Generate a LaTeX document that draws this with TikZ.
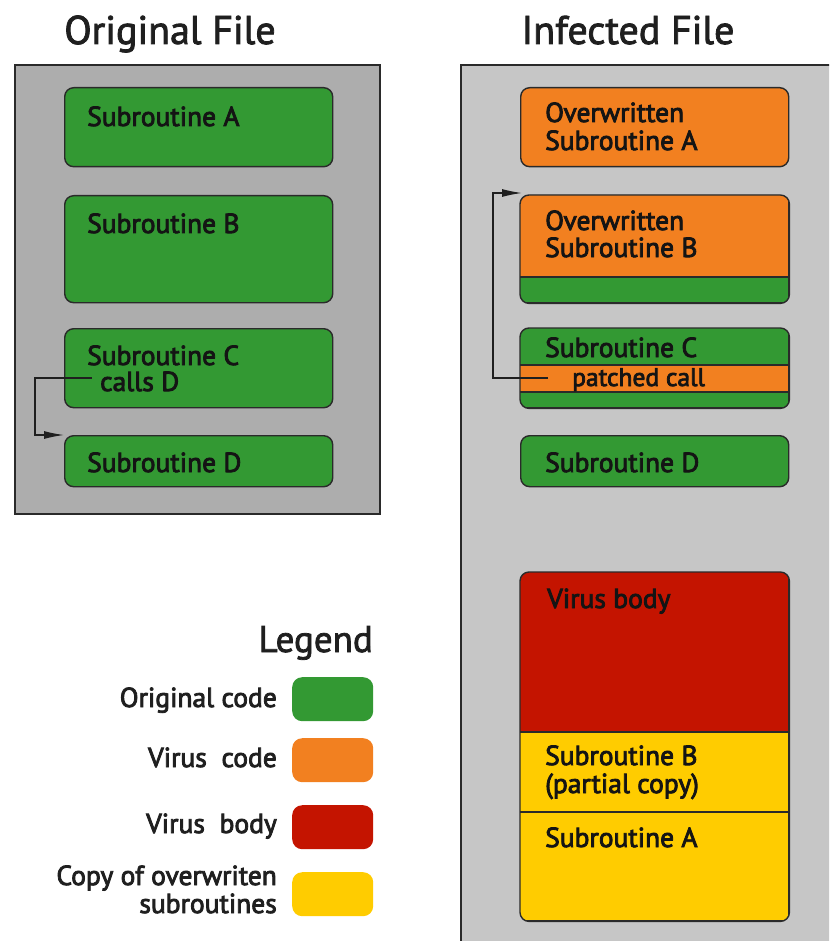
\documentclass[tikz,border=0pt]{standalone}
\usepackage{fontspec}
\setmainfont{PT Sans}[FakeBold=2]
\newfontfamily\boxfont{PT Sans}[FakeBold=3]
\usetikzlibrary{arrows.meta}
\definecolor{codegreen}{HTML}{339933}
\definecolor{viruscode}{HTML}{F28020}
\definecolor{virusbody}{HTML}{C41400}
\definecolor{copyyellow}{HTML}{FFCC00}
\definecolor{fileleft}{HTML}{ADADAD}
\definecolor{fileright}{HTML}{C6C6C6}
\definecolor{edge}{HTML}{2A2A2A}
\tikzset{
  filebox/.style={draw=edge, line width=1.6pt, anchor=north west, inner sep=0pt},
  sub/.style={draw=edge, line width=1.4pt, rounded corners=9pt, anchor=north west, inner sep=0pt, minimum width=268pt},
  swatch/.style={rounded corners=10pt, anchor=north west, inner sep=0pt, minimum width=81pt, minimum height=44pt},
  lbl/.style={anchor=base west, inner sep=0pt, font=\boxfont\fontsize{27.5}{28}\selectfont, text=black!92},
  leglbl/.style={anchor=base east, inner sep=0pt, font=\boxfont\fontsize{27.5}{28}\selectfont, text=black!88, align=right},
  title/.style={anchor=base, inner sep=0pt, font=\fontsize{40}{42}\selectfont, text=black!88},
  callarrow/.style={draw=black!88, line width=1.3pt, -{Latex[length=20pt,width=8pt]}},
}
\begin{document}
\begin{tikzpicture}[x=1pt,y=-1pt]
\clip (0,0) rectangle (829,941);
\fill[white] (0,0) rectangle (829,941);

% ---------- titles ----------
\node[title] (t1) at (170,44) {Original File};
\node[title] (t2) at (628,44) {Infected File};

% ---------- original file ----------
\node[filebox, fill=fileleft, minimum width=365pt, minimum height=449pt] (lf) at (14,64) {};
\node[sub, fill=codegreen, minimum height=79pt] (la) at (64,87) {};
\node[sub, fill=codegreen, minimum height=107pt] (lb) at (64,195) {};
\node[sub, fill=codegreen, minimum height=79pt] (lc) at (64,328) {};
\node[sub, fill=codegreen, minimum height=51pt] (ld) at (64,435) {};
\node[lbl] (lat) at (87,126) {Subroutine A};
\node[lbl] (lbt) at (87,233) {Subroutine B};
\node[lbl] (lct) at (87,365) {Subroutine C};
\node[lbl] (lcd) at (100,391) {calls D};
\node[lbl] (ldt) at (87,472) {Subroutine D};
\coordinate (callsrc) at (92,378);
\coordinate (callbend) at (35,378);
\draw[callarrow] (callsrc) -- (callbend) |- (ld.north west);

% ---------- infected file ----------
\node[filebox, fill=fileright, minimum width=400pt, minimum height=900pt] (rf) at (460,64) {};
% overwritten A
\node[sub, fill=viruscode, minimum height=79pt] (ra) at (520,87) {};
% overwritten B with remaining original tail
\node[sub, minimum height=107pt] (rb) at (520,195) {};
\begin{scope}
  \clip[rounded corners=9pt] (rb.north west) rectangle (rb.south east);
  \fill[viruscode] (520,195) rectangle (788,277);
  \fill[codegreen] (520,277) rectangle (788,302);
  \draw[edge, line width=1.2pt] (520,277) -- (788,277);
\end{scope}
\draw[edge, line width=1.4pt, rounded corners=9pt] (rb.north west) rectangle (rb.south east);
% subroutine C with patched call
\node[sub, minimum height=79pt] (rc) at (520,328) {};
\begin{scope}
  \clip[rounded corners=9pt] (rc.north west) rectangle (rc.south east);
  \fill[codegreen] (520,328) rectangle (788,407);
  \fill[viruscode] (520,365) rectangle (788,392);
  \draw[edge, line width=1.2pt] (520,365) -- (788,365) (520,392) -- (788,392);
\end{scope}
\draw[edge, line width=1.4pt, rounded corners=9pt] (rc.north west) rectangle (rc.south east);
% subroutine D
\node[sub, fill=codegreen, minimum height=51pt] (rd) at (520,435) {};
% appended virus
\node[sub, minimum height=348pt] (rv) at (520,572) {};
\begin{scope}
  \clip[rounded corners=9pt] (rv.north west) rectangle (rv.south east);
  \fill[virusbody] (520,572) rectangle (788,732);
  \fill[copyyellow] (520,732) rectangle (788,920);
  \draw[edge, line width=1.2pt] (520,732) -- (788,732) (520,812) -- (788,812);
\end{scope}
\draw[edge, line width=1.4pt, rounded corners=9pt] (rv.north west) rectangle (rv.south east);

\node[lbl] (rat) at (545,122) {Overwritten};
\node[lbl] (rat2) at (545,150) {Subroutine A};
\node[lbl] (rbt) at (545,230) {Overwritten};
\node[lbl] (rbt2) at (545,257) {Subroutine B};
\node[lbl] (rct) at (545,357) {Subroutine C};
\node[lbl, font=\boxfont\fontsize{25.5}{26}\selectfont] (rcp) at (572,386) {patched call};
\node[lbl] (rdt) at (545,472) {Subroutine D};
\node[lbl] (rvt) at (547,608) {Virus body};
\node[lbl] (rvb) at (545,765) {Subroutine B};
\node[lbl] (rvb2) at (545,793) {(partial copy)};
\node[lbl] (rva) at (545,847) {Subroutine A};
\coordinate (patchsrc) at (548,378);
\coordinate (patchbend) at (493,378);
\coordinate (patchdst) at (522,193);
\draw[callarrow] (patchsrc) -- (patchbend) |- (patchdst);

% ---------- legend ----------
\node[anchor=base east, inner sep=0pt, font=\fontsize{37}{38}\selectfont, text=black!88] (leg) at (373,652) {Legend};
\node[swatch, fill=codegreen] (sg) at (292,677) {};
\node[swatch, fill=viruscode] (so) at (292,738) {};
\node[swatch, fill=virusbody] (sr) at (292,805) {};
\node[swatch, fill=copyyellow] (sy) at (292,872) {};
\node[leglbl] (lg) at (277,707) {Original code};
\node[leglbl] (lo) at (277,767) {Virus\ \ code};
\node[leglbl] (lr) at (277,833) {Virus\ \ body};
\node[leglbl] (ly1) at (277,885) {Copy of overwriten};
\node[leglbl] (ly2) at (277,913) {subroutines};
\end{tikzpicture}
\end{document}
